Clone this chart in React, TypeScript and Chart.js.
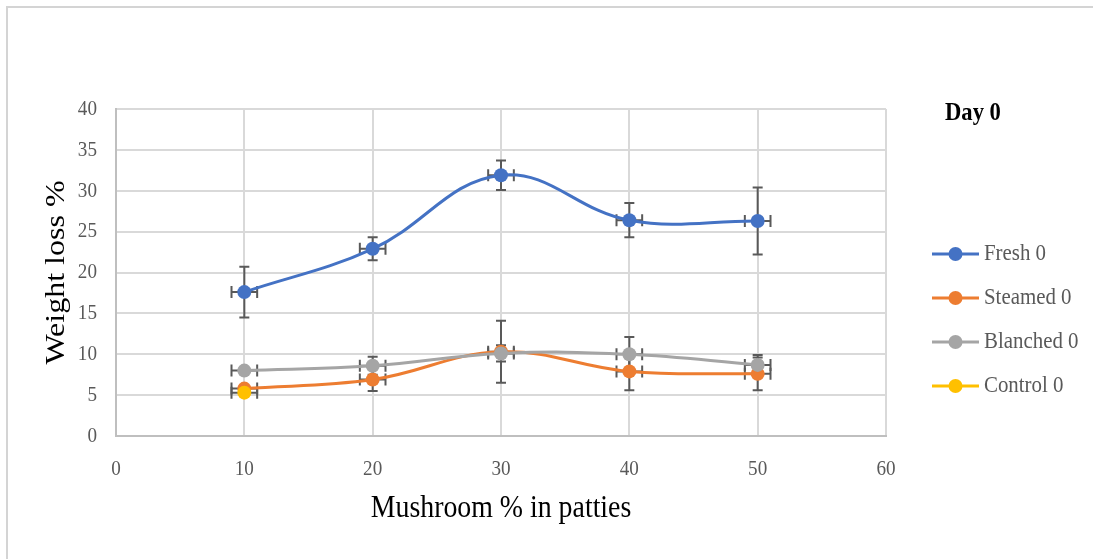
import { useEffect, useRef } from "react";
import { Chart, registerables } from "chart.js";

Chart.register(...registerables);

// Mushroom share in the patties (x) and weight loss % per treatment (y)
const mushroomPct = [10, 20, 30, 40, 50];
const fresh = [17.6, 22.9, 31.9, 26.4, 26.3];
const freshErr = [3.1, 1.4, 1.8, 2.1, 4.1];
const steamed = [5.8, 6.9, 10.3, 7.9, 7.6];
const steamedErr = [0.3, 1.4, 3.8, 2.3, 2.0];
const blanched = [8.0, 8.6, 10.1, 10.0, 8.7];
const blanchedErr = [0.3, 1.1, 1.0, 2.1, 1.2];
const controlPct = [10];
const control = [5.3];
const controlErr = [0.3];
const xErr = 1;

const xTicks = [0, 10, 20, 30, 40, 50, 60];
const yTicks = [0, 5, 10, 15, 20, 25, 30, 35, 40];

const seriesNames = ["Fresh 0", "Steamed 0", "Blanched 0", "Control 0"];
const seriesColors = ["#4472C4", "#ED7D31", "#A5A5A5", "#FFC000"];
const legendTitle = "Day 0";
const xTitle = "Mushroom % in patties";
const yTitle = "Weight loss %";

const SERIF = '"Liberation Serif", "Times New Roman", serif';
const SQUEEZE = 0.87;
const TICK_COLOR = "#595959";

function points(xs: number[], ys: number[], errs: number[]) {
  return xs.map((x, i) => ({ x, y: ys[i], err: errs[i] }));
}

function squeezedText(
  ctx: CanvasRenderingContext2D,
  text: string,
  x: number,
  y: number,
  font: string,
  color: string,
  align: CanvasTextAlign
) {
  ctx.save();
  ctx.translate(x, y);
  ctx.scale(SQUEEZE, 1);
  ctx.font = font;
  ctx.fillStyle = color;
  ctx.textAlign = align;
  ctx.textBaseline = "middle";
  ctx.fillText(text, 0, 0);
  ctx.restore();
}

// Vertical and horizontal error bars with caps, drawn beneath the series
const errorBars = {
  id: "errorBars",
  beforeDatasetsDraw(chart: any) {
    const { ctx, scales } = chart;
    const xs = scales.x;
    const ys = scales.y;
    const cap = 5;
    ctx.save();
    ctx.strokeStyle = "#595959";
    ctx.lineWidth = 2;
    chart.data.datasets.forEach((ds: any) => {
      ds.data.forEach((p: any) => {
        const px = xs.getPixelForValue(p.x);
        const py = ys.getPixelForValue(p.y);
        const top = ys.getPixelForValue(p.y + p.err);
        const bot = ys.getPixelForValue(p.y - p.err);
        const left = xs.getPixelForValue(p.x - xErr);
        const right = xs.getPixelForValue(p.x + xErr);
        ctx.beginPath();
        ctx.moveTo(px, top);
        ctx.lineTo(px, bot);
        ctx.moveTo(px - cap, top);
        ctx.lineTo(px + cap, top);
        ctx.moveTo(px - cap, bot);
        ctx.lineTo(px + cap, bot);
        ctx.moveTo(left, py);
        ctx.lineTo(right, py);
        ctx.moveTo(left, py - cap - 1);
        ctx.lineTo(left, py + cap + 1);
        ctx.moveTo(right, py - cap - 1);
        ctx.lineTo(right, py + cap + 1);
        ctx.stroke();
      });
    });
    ctx.restore();
  },
};

// Tick labels, axis titles, legend and the outer frame
const annotations = {
  id: "annotations",
  afterDraw(chart: any) {
    const { ctx, scales, chartArea } = chart;
    const xs = scales.x;
    const ys = scales.y;
    const tickFont = `22px ${SERIF}`;

    ctx.save();
    ctx.strokeStyle = "#d4d4d4";
    ctx.lineWidth = 2;
    ctx.beginPath();
    ctx.moveTo(7, chart.height);
    ctx.lineTo(7, 7);
    ctx.lineTo(chart.width, 7);
    ctx.stroke();
    ctx.restore();

    ys.ticks.forEach((t: any) => {
      squeezedText(ctx, String(t.value), chartArea.left - 19, ys.getPixelForValue(t.value), tickFont, TICK_COLOR, "right");
    });
    xs.ticks.forEach((t: any) => {
      squeezedText(ctx, String(t.value), xs.getPixelForValue(t.value), chartArea.bottom + 33, tickFont, TICK_COLOR, "center");
    });

    squeezedText(ctx, xTitle, (chartArea.left + chartArea.right) / 2, chartArea.bottom + 73, `32px ${SERIF}`, "#000", "center");

    ctx.save();
    ctx.translate(57, (chartArea.top + chartArea.bottom) / 2);
    ctx.scale(SQUEEZE, 1);
    ctx.rotate(-Math.PI / 2);
    ctx.font = `32px ${SERIF}`;
    ctx.fillStyle = "#000";
    ctx.textAlign = "center";
    ctx.textBaseline = "middle";
    ctx.fillText(yTitle, 0, 0);
    ctx.restore();

    const lx = chartArea.right + 46;
    squeezedText(ctx, legendTitle, lx + 13, chartArea.top + 4, `bold 26px ${SERIF}`, "#000", "left");
    seriesNames.forEach((name, i) => {
      const cy = chartArea.top + 145 + i * 44;
      ctx.save();
      ctx.strokeStyle = seriesColors[i];
      ctx.lineWidth = 3;
      ctx.beginPath();
      ctx.moveTo(lx, cy);
      ctx.lineTo(lx + 47, cy);
      ctx.stroke();
      ctx.fillStyle = seriesColors[i];
      ctx.beginPath();
      ctx.arc(lx + 23.5, cy, 7, 0, Math.PI * 2);
      ctx.fill();
      ctx.restore();
      squeezedText(ctx, name, lx + 52, cy, `24px ${SERIF}`, TICK_COLOR, "left");
    });
  },
};

export default function App() {
  const canvasRef = useRef<HTMLCanvasElement | null>(null);

  useEffect(() => {
    document.body.style.margin = "0";
    const canvas = canvasRef.current;
    if (!canvas) return;

    const seriesData = [
      points(mushroomPct, fresh, freshErr),
      points(mushroomPct, steamed, steamedErr),
      points(mushroomPct, blanched, blanchedErr),
      points(controlPct, control, controlErr),
    ];

    const chart = new Chart(canvas, {
      type: "scatter",
      data: {
        datasets: seriesNames.map((label, i) => ({
          label,
          data: seriesData[i],
          showLine: true,
          borderColor: seriesColors[i],
          backgroundColor: seriesColors[i],
          borderWidth: 3,
          pointRadius: 7,
          pointHoverRadius: 7,
          pointBorderWidth: 0,
          tension: 0.4,
          order: 4 - i,
        })),
      },
      options: {
        responsive: false,
        animation: false,
        devicePixelRatio: 1,
        layout: { padding: { left: 0, right: 207, top: 109, bottom: 0 } },
        plugins: { legend: { display: false }, tooltip: { enabled: false } },
        scales: {
          x: {
            type: "linear",
            min: 0,
            max: 60,
            afterBuildTicks: (scale: any) => {
              scale.ticks = xTicks.map((v) => ({ value: v }));
            },
            afterFit: (scale: any) => {
              scale.height = 123;
            },
            ticks: { display: false },
            grid: { color: "#d9d9d9", lineWidth: 2, drawTicks: false },
            border: { color: "#bfbfbf", width: 2 },
          },
          y: {
            type: "linear",
            min: 0,
            max: 40,
            afterBuildTicks: (scale: any) => {
              scale.ticks = yTicks.map((v) => ({ value: v }));
            },
            afterFit: (scale: any) => {
              scale.width = 116;
            },
            ticks: { display: false },
            grid: { color: "#d9d9d9", lineWidth: 2, drawTicks: false },
            border: { color: "#bfbfbf", width: 2 },
          },
        },
      },
      plugins: [errorBars, annotations],
    });

    return () => chart.destroy();
  }, []);

  return (
    <div style={{ width: 1093, height: 559, background: "#fff" }}>
      <canvas ref={canvasRef} width={1093} height={559} />
    </div>
  );
}
